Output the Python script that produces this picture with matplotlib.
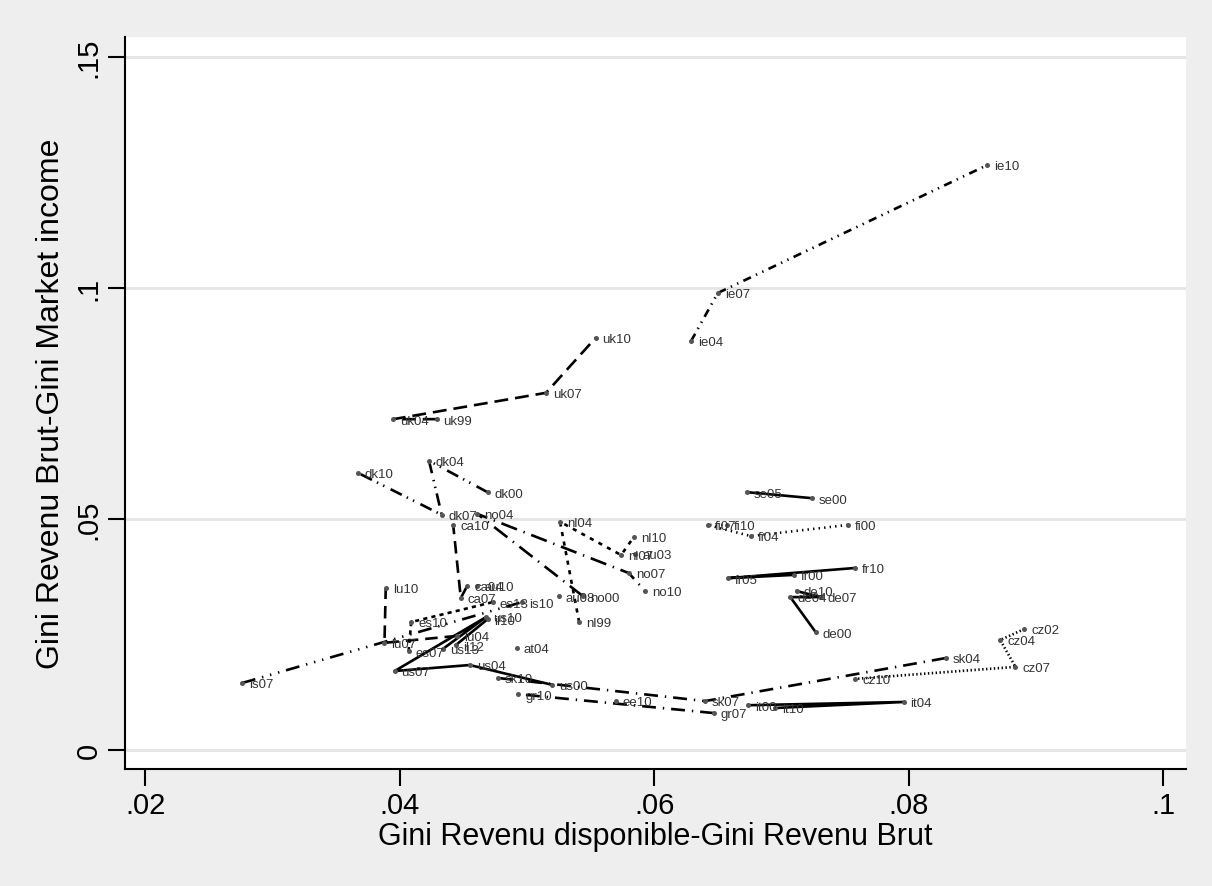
import matplotlib
matplotlib.use('Agg')
import matplotlib.pyplot as plt

plt.rcParams['font.family'] = ['Liberation Sans', 'DejaVu Sans']
plt.rcParams['lines.scale_dashes'] = False

# country-year codes and their coordinates
labels = ['ie04', 'ie07', 'ie10', 'uk99', 'uk04', 'uk07', 'uk10',
          'dk00', 'dk04', 'dk07', 'dk10', 'no00', 'no04', 'no07', 'no10',
          'nl99', 'nl04', 'nl07', 'nl10', 'au03', 'au08', 'au10',
          'ca04', 'ca07', 'ca10', 'es07', 'es10', 'es13', 'is07', 'is10',
          'lu04', 'lu07', 'lu10', 'us00', 'us04', 'us07', 'us10', 'us13',
          'il10', 'il12', 'at04', 'sk04', 'sk07', 'sk10', 'gr07', 'gr10',
          'ee10', 'it00', 'it04', 'it10', 'cz02', 'cz04', 'cz07', 'cz10',
          'de00', 'de04', 'de07', 'de10', 'fr00', 'fr05', 'fr10',
          'se00', 'se05', 'fi00', 'fi04', 'fi07', 'fi10']
gini_dispo = [0.0629, 0.0650, 0.0862, 0.0429, 0.0395, 0.0515, 0.0554,
              0.0469, 0.0423, 0.0433, 0.0367, 0.0544, 0.0461, 0.0580, 0.0593,
              0.0541, 0.0526, 0.0574, 0.0584, 0.0585, 0.0525, 0.0461,
              0.0453, 0.0448, 0.0442, 0.0407, 0.0409, 0.0473, 0.0276, 0.0496,
              0.0445, 0.0388, 0.0389, 0.0520, 0.0455, 0.0396, 0.0468, 0.0434,
              0.0469, 0.0444, 0.0492, 0.0829, 0.0640, 0.0477, 0.0647, 0.0493,
              0.0570, 0.0674, 0.0796, 0.0695, 0.0891, 0.0872, 0.0884, 0.0758,
              0.0727, 0.0707, 0.0731, 0.0712, 0.0710, 0.0658, 0.0758,
              0.0724, 0.0673, 0.0752, 0.0676, 0.0642, 0.0657]
gini_brut = [0.0885, 0.0989, 0.1266, 0.0716, 0.0716, 0.0773, 0.0892,
             0.0558, 0.0626, 0.0509, 0.0600, 0.0333, 0.0511, 0.0383, 0.0344,
             0.0277, 0.0494, 0.0422, 0.0461, 0.0424, 0.0333, 0.0355,
             0.0355, 0.0329, 0.0487, 0.0214, 0.0277, 0.0320, 0.0145, 0.0320,
             0.0247, 0.0232, 0.0351, 0.0141, 0.0184, 0.0171, 0.0288, 0.0219,
             0.0283, 0.0227, 0.0221, 0.0199, 0.0106, 0.0156, 0.0080, 0.0121,
             0.0106, 0.0097, 0.0104, 0.0091, 0.0262, 0.0238, 0.0180, 0.0154,
             0.0255, 0.0331, 0.0331, 0.0344, 0.0379, 0.0372, 0.0394,
             0.0545, 0.0558, 0.0487, 0.0463, 0.0487, 0.0487]

xticks = [0.02, 0.04, 0.06, 0.08, 0.1]
xticklabels = ['.02', '.04', '.06', '.08', '.1']
yticks = [0, 0.05, 0.1, 0.15]
yticklabels = ['0', '.05', '.1', '.15']

# line pattern per country (None = no connecting line)
styles = {
    'ie': (0, (6, 4, 1, 4, 1, 4)), 'uk': (0, (10, 5)), 'dk': (0, (9, 5, 1, 4, 1, 4)),
    'no': (0, (12, 5, 1, 5)), 'nl': (0, (3, 4)), 'se': '-', 'fi': (0, (1, 3)),
    'fr': '-', 'de': '-', 'cz': (0, (1, 1.8)), 'sk': (0, (10, 5, 1, 5)), 'it': '-',
    'gr': (0, (10, 5, 1, 5)), 'us': '-', 'lu': (0, (9, 5)), 'es': (0, (3, 3)),
    'ca': (0, (9, 5)), 'is': (0, (10, 5, 1, 5, 1, 5, 1, 5)), 'il': '-',
    'au': None, 'at': None, 'ee': None,
}

fig = plt.figure(figsize=(12.12, 8.87), dpi=100, facecolor='#eeeeee')
ax = fig.add_axes([0.1031, 0.1319, 0.8754, 0.8253])
ax.set_facecolor('white')

for y in yticks:
    ax.axhline(y, color='#e4e4e4', lw=2, zorder=0)

def year(code):
    yy = int(code[2:])
    return 1900 + yy if yy > 50 else 2000 + yy

countries = []
for c in labels:
    if c[:2] not in countries:
        countries.append(c[:2])

for ctry in countries:
    idx = [i for i, c in enumerate(labels) if c[:2] == ctry]
    idx.sort(key=lambda i: year(labels[i]))
    ls = styles.get(ctry)
    if ls is not None and len(idx) > 1:
        ax.plot([gini_dispo[i] for i in idx], [gini_brut[i] for i in idx],
                color='black', lw=1.9, linestyle=ls, zorder=2)

ax.scatter(gini_dispo, gini_brut, s=13, color='#555555', zorder=3, linewidths=0)
for lab, x, y in zip(labels, gini_dispo, gini_brut):
    ax.annotate(lab, (x, y), xytext=(5, -1), textcoords='offset points',
                fontsize=9.5, color='#333333', va='center', ha='left', zorder=4)

ax.set_xlim(0.0184, 0.1018)
ax.set_ylim(-0.0041, 0.1543)
ax.set_xticks(xticks)
ax.set_xticklabels(xticklabels)
ax.set_yticks(yticks)
ax.set_yticklabels(yticklabels, rotation=90, va='center')
ax.tick_params(length=12, width=1.5, labelsize=21, pad=4, colors='black')

for s in ['top', 'right']:
    ax.spines[s].set_visible(False)
for s in ['left', 'bottom']:
    ax.spines[s].set_linewidth(1.5)

ax.set_xlabel('Gini Revenu disponible-Gini Revenu Brut', fontsize=22, labelpad=1)
ax.set_ylabel('Gini Revenu Brut-Gini Market income', fontsize=23, labelpad=6)

fig.savefig('out.png', dpi=100, facecolor=fig.get_facecolor())
